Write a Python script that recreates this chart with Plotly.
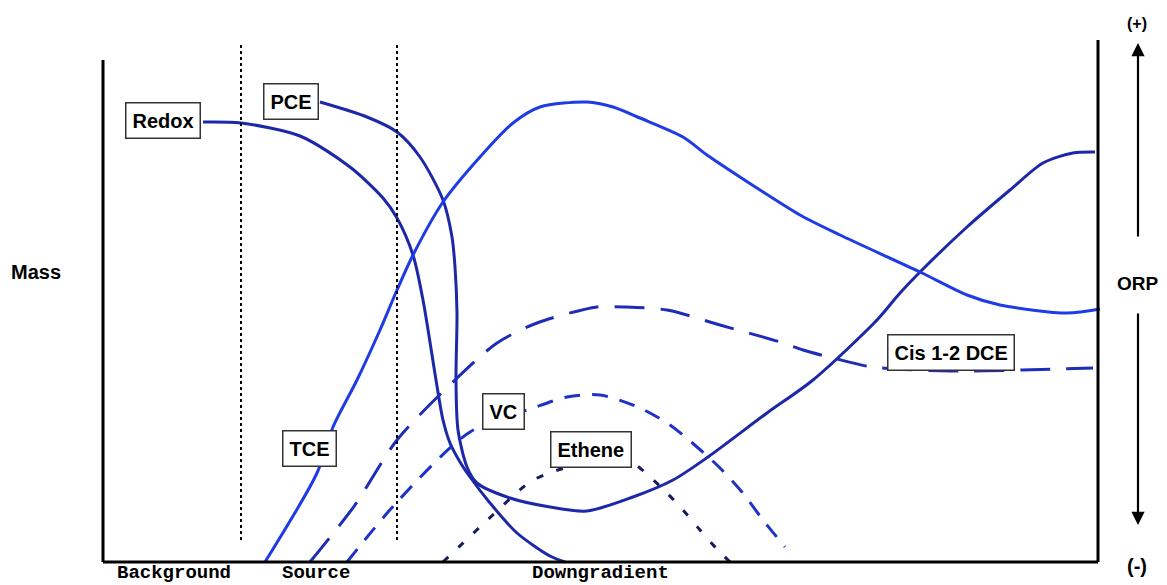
import plotly.graph_objects as go

# Chart units: distance along flow path (x) and relative level (y)
redox_x = [100, 138, 197, 247, 280, 294, 310, 320, 333, 340, 347, 357, 367, 387, 414, 447, 462]
redox_y = [440, 439, 426, 395, 364, 344, 307, 262, 182, 142, 119, 100, 85, 59, 29, 6, 0]

pce_x = [217, 264, 294, 317, 340, 349, 352, 354, 353, 355, 364, 374, 407, 447, 484, 530, 570, 605,
         664, 710, 774, 797, 817, 864, 907, 940, 970, 992]
pce_y = [460, 445, 430, 405, 362, 325, 295, 249, 182, 132, 95, 79, 64, 55, 51, 65, 82, 105,
         149, 182, 242, 269, 290, 335, 372, 399, 409, 410]

tce_x = [162, 214, 230, 254, 277, 294, 310, 340, 377, 410, 437, 484, 510, 537, 580, 604, 637, 697,
         737, 817, 864, 897, 964, 997]
tce_y = [0, 89, 135, 182, 232, 272, 307, 360, 405, 439, 455, 460, 455, 444, 425, 407, 385, 347,
         327, 290, 267, 257, 249, 253]

dce_x = [207, 252, 294, 352, 394, 434, 494, 520, 564, 617, 677, 700, 730, 769, 847, 919, 990]
dce_y = [0, 57, 122, 182, 219, 239, 255, 255, 252, 237, 220, 212, 204, 195, 191, 192, 194]

vc_x = [244, 294, 367, 430, 464, 497, 537, 567, 594, 617, 639, 660, 682]
vc_y = [0, 60, 130, 154, 165, 167, 154, 137, 115, 94, 70, 42, 15]

eth_x = [340, 377, 427, 449, 487, 529, 547, 564, 580, 597, 613, 627]
eth_y = [0, 35, 80, 90, 100, 99, 85, 69, 52, 32, 14, 0]

zone_bounds = [138, 294]
zone_labels = ["Background", "Source", "Downgradient"]
zone_label_x = [71, 213, 497]

curve_labels = ["Redox", "PCE", "TCE", "VC", "Ethene", "Cis 1-2 DCE"]
curve_label_x = [60, 188, 206, 400, 488, 848]
curve_label_y = [442, 461, 114, 151, 113, 210]

NAVY = "#1c28a8"
BLUE = "#1f3be6"

fig = go.Figure()

def add_curve(x, y, color, dash, width=3):
    fig.add_trace(go.Scatter(x=x, y=y, mode="lines",
                             line=dict(color=color, width=width, dash=dash, shape="spline", smoothing=0.8),
                             hoverinfo="skip", showlegend=False))

add_curve(redox_x, redox_y, NAVY, "solid")
add_curve(pce_x, pce_y, NAVY, "solid")
add_curve(tce_x, tce_y, BLUE, "solid")
add_curve(dce_x, dce_y, "#1e2db8", "30px,16px")
add_curve(vc_x, vc_y, "#1e32c8", "16px,12px")
add_curve(eth_x, eth_y, "#161c60", "7px,14px")

shapes = []
# frame lines
shapes.append(dict(type="line", x0=0, x1=0, y0=0, y1=502, line=dict(color="black", width=3)))
shapes.append(dict(type="line", x0=0, x1=995, y0=0, y1=0, line=dict(color="black", width=3)))
shapes.append(dict(type="line", x0=995, x1=995, y0=0, y1=522, line=dict(color="black", width=3)))
for xb in zone_bounds:
    shapes.append(dict(type="line", x0=xb, x1=xb, y0=22, y1=520,
                       line=dict(color="black", width=2, dash="dot")))

annotations = []
for t, x, y in zip(curve_labels, curve_label_x, curve_label_y):
    annotations.append(dict(x=x, y=y, text="<b>" + t + "</b>", showarrow=False,
                            font=dict(family="Liberation Sans, Arial", size=20, color="black"),
                            bgcolor="white", bordercolor="#333333", borderwidth=1.5, borderpad=6))
for t, x in zip(zone_labels, zone_label_x):
    annotations.append(dict(x=x, y=-11, text="<b>" + t + "</b>", showarrow=False,
                            font=dict(family="Liberation Mono, Courier New", size=19, color="black")))
annotations.append(dict(x=-67, y=290, text="<b>Mass</b>", showarrow=False,
                        font=dict(family="Liberation Sans, Arial", size=20, color="black")))
annotations.append(dict(x=1035, y=279, text="<b>ORP</b>", showarrow=False,
                        font=dict(family="Liberation Sans, Arial", size=19, color="black")))
annotations.append(dict(x=1034, y=539, text="<b>(+)</b>", showarrow=False,
                        font=dict(family="Liberation Sans, Arial", size=16, color="black")))
annotations.append(dict(x=1034, y=-4, text="<b>(-)</b>", showarrow=False,
                        font=dict(family="Liberation Sans, Arial", size=20, color="black")))
# ORP arrows
annotations.append(dict(x=1035, y=519, ax=1035, ay=324, xref="x", yref="y", axref="x", ayref="y",
                        text="", showarrow=True, arrowhead=2, arrowsize=1.2, arrowwidth=2.2,
                        arrowcolor="black"))
annotations.append(dict(x=1035, y=37, ax=1035, ay=250, xref="x", yref="y", axref="x", ayref="y",
                        text="", showarrow=True, arrowhead=2, arrowsize=1.2, arrowwidth=2.2,
                        arrowcolor="black"))

fig.update_layout(
    width=1167, height=585,
    margin=dict(l=0, r=0, t=0, b=0),
    paper_bgcolor="white", plot_bgcolor="white",
    xaxis=dict(range=[-103, 1064], visible=False, fixedrange=True),
    yaxis=dict(range=[-23, 562], visible=False, fixedrange=True),
    shapes=shapes, annotations=annotations, showlegend=False,
)

fig.write_html("out.html", config={"displayModeBar": False, "staticPlot": True},
               post_script="document.body.style.margin='0';document.body.style.overflow='hidden';")
